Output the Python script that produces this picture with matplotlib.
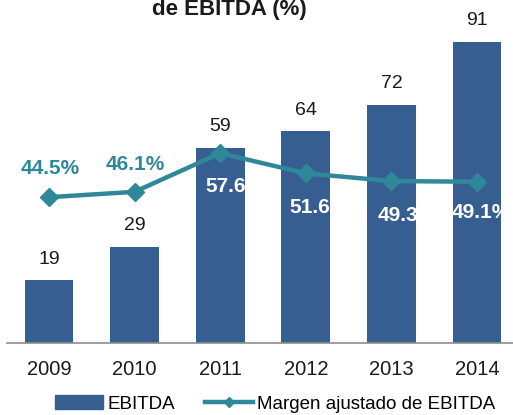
import matplotlib
matplotlib.use("Agg")
import matplotlib.pyplot as plt
from matplotlib.lines import Line2D
from matplotlib.patches import Patch

plt.rcParams['font.family'] = ['Liberation Sans', 'DejaVu Sans']

years = ["2009", "2010", "2011", "2012", "2013", "2014"]
ebitda = [19, 29, 59, 64, 72, 91]
margin = [44.5, 46.1, 57.6, 51.6, 49.3, 49.1]
margin_labels = ["44.5%", "46.1%", "57.6%", "51.6%", "49.3%", "49.1%"]

# label placement (offset points from the marker)
label_dx = [0.7, 0.7, 10.4, 9.7, 11.2, 3.2]
label_dy = [21, 19.5, -24, -24.8, -24.5, -22]

bar_color = "#375E91"
line_color = "#2F889A"
text_color = "#1A1A1A"

fig = plt.figure(figsize=(5.13, 4.15), dpi=100)
ax = fig.add_axes([7/513, (415-343)/415, 1 - 7/513, 343/415])
x = list(range(len(years)))
ax.bar(x, ebitda, width=0.57, color=bar_color, zorder=2)
ax.set_ylim(0, 103.6)
ax.set_xlim(-0.49, 5.42)
for xi, v in zip(x, ebitda):
    ax.annotate(str(v), (xi, v), xytext=(0, 9), textcoords="offset points",
                ha="center", va="bottom", fontsize=14, color=text_color)

ax2 = ax.twinx()
ax2.set_ylim(1.1, 103.2)
ax2.plot(x, margin, color=line_color, lw=3.2, marker="D", markersize=9, zorder=3)
for i, (xi, v, lab) in enumerate(zip(x, margin, margin_labels)):
    col = line_color if i < 2 else "white"
    ax2.annotate(lab, (xi, v), xytext=(label_dx[i], label_dy[i]),
                 textcoords="offset points", ha="center", va="center",
                 fontsize=15, fontweight="bold", color=col)

for a in (ax, ax2):
    for s in ("top", "right", "left"):
        a.spines[s].set_visible(False)
    a.set_yticks([])
ax2.spines["bottom"].set_visible(False)
ax.spines["bottom"].set_color("#8C8C8C")
ax.spines["bottom"].set_linewidth(1.2)
ax.set_xticks(x)
ax.set_xticklabels(years, fontsize=14.5, color=text_color)
ax.tick_params(axis="x", length=0, pad=12)

fig.text(229/513, 1 - 15/415, "de EBITDA (%)", ha="center", va="baseline",
         fontsize=16, fontweight="bold", color=text_color)

handles = [Patch(color=bar_color),
           Line2D([0], [0], color=line_color, lw=3.2, marker="D", markersize=5)]
fig.legend(handles, ["EBITDA", "Margen ajustado de EBITDA"], loc="center",
           bbox_to_anchor=(275/513, 1 - 404/415), ncol=2, frameon=False,
           fontsize=13.5, handlelength=2.6, handletextpad=0.2, columnspacing=1.6,
           borderpad=0, borderaxespad=0)

fig.savefig("out.png", dpi=100)
